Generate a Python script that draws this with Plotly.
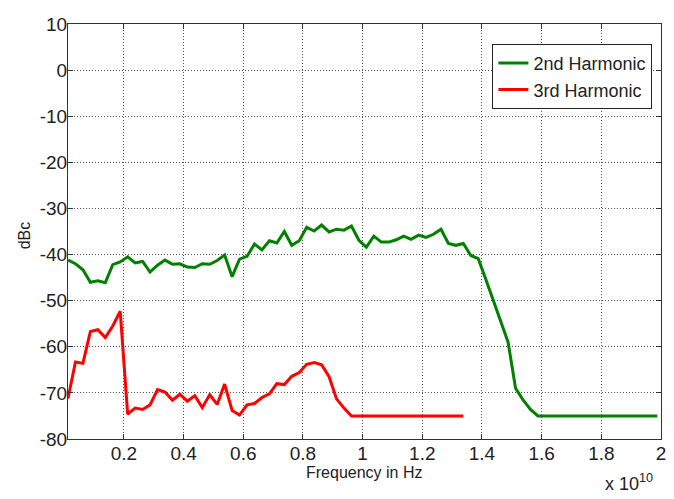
import plotly.graph_objects as go

# Frequency in units of 1e10 Hz
freq_2nd = [0.0125, 0.0375, 0.0625, 0.0875, 0.1125, 0.1375, 0.1625, 0.1875, 0.2125, 0.2375,
            0.2625, 0.2875, 0.3125, 0.3375, 0.3625, 0.3875, 0.4125, 0.4375, 0.4625, 0.4875,
            0.5125, 0.5375, 0.5625, 0.5875, 0.6125, 0.6375, 0.6625, 0.6875, 0.7125, 0.7375,
            0.7625, 0.7875, 0.8125, 0.8375, 0.8625, 0.8875, 0.9125, 0.9375, 0.9625, 0.9875,
            1.0125, 1.0375, 1.0625, 1.0875, 1.1125, 1.1375, 1.1625, 1.1875, 1.2125, 1.2375,
            1.2625, 1.2875, 1.3125, 1.3375, 1.3625, 1.3875, 1.4125, 1.4375, 1.4625, 1.4875,
            1.5125, 1.5375, 1.5625, 1.5875, 1.6125, 1.6375, 1.6625, 1.6875, 1.7125, 1.7375,
            1.7625, 1.7875, 1.8125, 1.8375, 1.8625, 1.8875, 1.9125, 1.9375, 1.9625, 1.9875]
dbc_2nd = [-41.2, -42.0, -43.3, -46.0, -45.7, -46.1, -42.2, -41.6, -40.5, -41.8,
           -41.5, -43.8, -42.3, -41.2, -42.1, -42.0, -42.7, -42.8, -42.0, -42.1,
           -41.3, -40.1, -44.8, -41.0, -40.4, -37.7, -39.0, -37.0, -37.5, -35.0,
           -38.0, -37.0, -34.1, -34.9, -33.6, -35.1, -34.5, -34.7, -33.8, -36.9,
           -38.4, -36.0, -37.3, -37.3, -36.8, -36.0, -36.7, -35.8, -36.3, -35.6,
           -34.5, -37.6, -38.0, -37.6, -40.2, -40.9, -45.3, -50.0, -54.5, -59.0,
           -69.0, -71.5, -73.6, -75.0, -75.0, -75.0, -75.0, -75.0, -75.0, -75.0,
           -75.0, -75.0, -75.0, -75.0, -75.0, -75.0, -75.0, -75.0, -75.0, -75.0]

freq_3rd = [0.0125, 0.0375, 0.0625, 0.0875, 0.1125, 0.1375, 0.1625, 0.1875, 0.2125, 0.2375,
            0.2625, 0.2875, 0.3125, 0.3375, 0.3625, 0.3875, 0.4125, 0.4375, 0.4625, 0.4875,
            0.5125, 0.5375, 0.5625, 0.5875, 0.6125, 0.6375, 0.6625, 0.6875, 0.7125, 0.7375,
            0.7625, 0.7875, 0.8125, 0.8375, 0.8625, 0.8875, 0.9125, 0.9375, 0.9625, 0.9875,
            1.0125, 1.0375, 1.0625, 1.0875, 1.1125, 1.1375, 1.1625, 1.1875, 1.2125, 1.2375,
            1.2625, 1.2875, 1.3125, 1.3375]
dbc_3rd = [-71.2, -63.3, -63.6, -56.7, -56.3, -58.0, -55.5, -52.3, -74.6, -73.3,
           -73.6, -72.6, -69.3, -69.8, -71.6, -70.3, -71.8, -70.6, -73.2, -70.4,
           -72.5, -68.1, -73.8, -74.8, -72.6, -72.3, -71.0, -70.2, -68.0, -68.2,
           -66.4, -65.6, -63.8, -63.4, -63.9, -66.5, -71.3, -73.3, -75.0, -75.0,
           -75.0, -75.0, -75.0, -75.0, -75.0, -75.0, -75.0, -75.0, -75.0, -75.0,
           -75.0, -75.0, -75.0, -75.0]

x_tick_vals = [0.2, 0.4, 0.6, 0.8, 1.0, 1.2, 1.4, 1.6, 1.8, 2.0]
x_tick_text = ["0.2", "0.4", "0.6", "0.8", "1", "1.2", "1.4", "1.6", "1.8", "2"]
y_tick_vals = [10, 0, -10, -20, -30, -40, -50, -60, -70, -80]
y_tick_text = ["10", "0", "-10", "-20", "-30", "-40", "-50", "-60", "-70", "-80"]

FONT = "Liberation Sans, Arial, sans-serif"

fig = go.Figure()
fig.add_trace(go.Scatter(x=freq_2nd, y=dbc_2nd, mode="lines", name="2nd Harmonic",
                         line=dict(color="#008000", width=3)))
fig.add_trace(go.Scatter(x=freq_3rd, y=dbc_3rd, mode="lines", name="3rd Harmonic",
                         line=dict(color="#ff0000", width=3)))

axis_common = dict(showline=True, linecolor="#333333", linewidth=1, mirror="allticks",
                   ticks="inside", ticklen=5, tickcolor="#333333",
                   showgrid=True, gridcolor="#555555", griddash="1px,2px", gridwidth=1,
                   zeroline=False, automargin=False,
                   tickfont=dict(family=FONT, size=19, color="#222222"))

# page body has an 8px margin, so the figure is sized to fit the 674x499 window
fig.update_layout(
    width=666, height=491,
    margin=dict(l=60, r=13, t=16, b=60),
    paper_bgcolor="white", plot_bgcolor="white",
    showlegend=True,
    legend=dict(x=0.9855, y=0.952, xanchor="right", yanchor="top",
                bgcolor="white", bordercolor="#222222", borderwidth=1,
                font=dict(family=FONT, size=18, color="#222222"),
                tracegroupgap=0),
    xaxis=dict(range=[0.0125, 2.0], tickvals=x_tick_vals, ticktext=x_tick_text,
               ticklabelstandoff=-3, **axis_common),
    yaxis=dict(range=[-80, 10], tickvals=y_tick_vals, ticktext=y_tick_text,
               ticklabelstandoff=-4, **axis_common),
    annotations=[
        dict(text="Frequency in Hz", x=0.5, y=-0.08, xref="paper", yref="paper",
             xanchor="center", yanchor="middle", showarrow=False,
             font=dict(family=FONT, size=16, color="#222222")),
        dict(text="dBc", x=-0.073, y=0.49, xref="paper", yref="paper", textangle=-90,
             xanchor="center", yanchor="middle", showarrow=False,
             font=dict(family=FONT, size=16, color="#222222")),
        dict(text="x 10<sup>10</sup>", x=0.99, y=-0.072, xref="paper", yref="paper",
             xanchor="right", yanchor="top", showarrow=False,
             font=dict(family=FONT, size=18, color="#222222")),
    ],
)

fig.write_html("out.html")
